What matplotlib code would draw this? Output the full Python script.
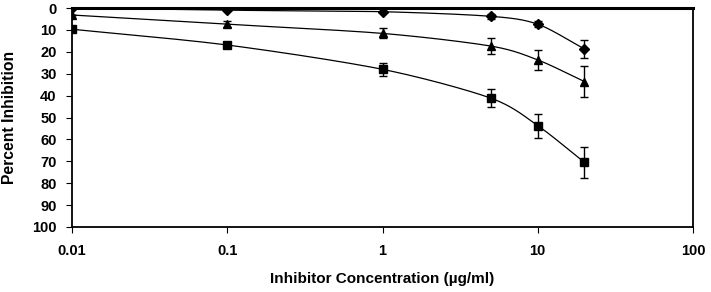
import matplotlib

matplotlib.use("Agg")
import matplotlib.pyplot as plt
import numpy as np

plt.rcParams["font.family"] = ["Liberation Sans", "DejaVu Sans"]
plt.rcParams["font.weight"] = "bold"

conc = [0.01, 0.1, 1, 5, 10, 20]
diamond_mean = [0.0, 1.0, 1.7, 3.8, 7.4, 18.7]
diamond_err = [0.0, 0.0, 0.0, 1.0, 1.5, 4.0]
triangle_mean = [3.2, 7.4, 11.6, 17.4, 23.7, 33.6]
triangle_err = [0.0, 1.5, 2.3, 3.8, 4.6, 7.0]
square_mean = [9.7, 16.9, 28.0, 41.2, 53.7, 70.5]
square_err = [0.0, 1.5, 2.9, 4.2, 5.5, 7.2]

xticks = [0.01, 0.1, 1, 10, 100]
xticklabels = ["0.01", "0.1", "1", "10", "100"]
yticks = list(range(0, 101, 10))


def smooth(x, y, n=30, k=7.0):
    # cardinal-spline smoothing in log10(x) space, like the spreadsheet's smoothed line
    lx = np.log10(np.asarray(x, float))
    y = np.asarray(y, float)
    px = np.concatenate([[2 * lx[0] - lx[1]], lx, [2 * lx[-1] - lx[-2]]])
    py = np.concatenate([[2 * y[0] - y[1]], y, [2 * y[-1] - y[-2]]])
    xs, ys = [], []
    for i in range(1, len(px) - 2):
        p0, p1, p2, p3 = px[i - 1], px[i], px[i + 1], px[i + 2]
        q0, q1, q2, q3 = py[i - 1], py[i], py[i + 1], py[i + 2]
        c1x = p1 + (p2 - p0) / k
        c2x = p2 - (p3 - p1) / k
        c1y = q1 + (q2 - q0) / k
        c2y = q2 - (q3 - q1) / k
        t = np.linspace(0, 1, n)
        b = [(1 - t) ** 3, 3 * (1 - t) ** 2 * t, 3 * (1 - t) * t ** 2, t ** 3]
        xs.append(b[0] * p1 + b[1] * c1x + b[2] * c2x + b[3] * p2)
        ys.append(b[0] * q1 + b[1] * c1y + b[2] * c2y + b[3] * q2)
    return 10 ** np.concatenate(xs), np.concatenate(ys)


fig = plt.figure(figsize=(7.11, 2.92), dpi=100)
ax = fig.add_axes([72 / 711, 1 - 227 / 292, (693 - 72) / 711, (227 - 8) / 292])

for mean, err, mk, ms in [
    (diamond_mean, diamond_err, "D", 4.8),
    (triangle_mean, triangle_err, "^", 6.2),
    (square_mean, square_err, "s", 5.2),
]:
    sx, sy = smooth(conc, mean)
    ax.plot(sx, sy, color="black", lw=0.9, zorder=2)
    ax.errorbar(conc, mean, yerr=err, fmt=mk, ms=ms, color="black",
                ecolor="black", elinewidth=1.0, capsize=2.6, capthick=1.0, zorder=3)

ax.set_xscale("log")
ax.set_xlim(0.01, 100)
ax.set_ylim(100, 0)
ax.set_xticks(xticks)
ax.set_xticklabels(xticklabels)
ax.minorticks_off()
ax.set_yticks(yticks)
ax.tick_params(axis="both", direction="out", length=4, width=0.8, labelsize=10.5)
ax.tick_params(axis="x", pad=8)
ax.tick_params(axis="y", pad=7)
for side in ["left", "bottom", "right"]:
    ax.spines[side].set_linewidth(1.3)
ax.spines["top"].set_linewidth(2.2)
for lab in ax.get_xticklabels() + ax.get_yticklabels():
    lab.set_fontweight("bold")

ax.set_xlabel("Inhibitor Concentration (µg/ml)", fontsize=11, fontweight="bold", labelpad=10)
ax.set_ylabel("Percent Inhibition", fontsize=11.3, fontweight="bold", labelpad=11)

fig.savefig("out.png", dpi=100)
